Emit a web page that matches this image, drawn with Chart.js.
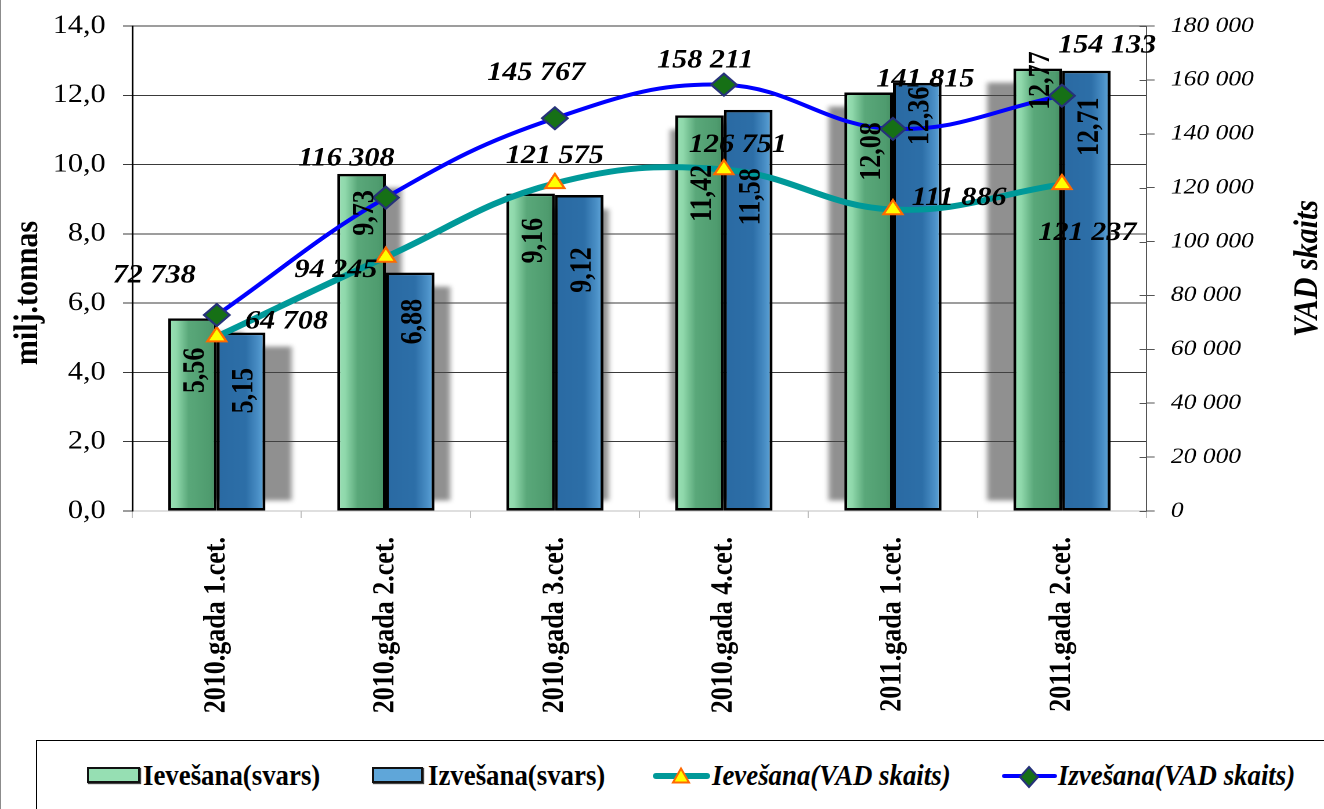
<!DOCTYPE html>
<html>
<head>
<meta charset="utf-8">
<script src="https://cdn.jsdelivr.net/npm/chart.js@4.4.1/dist/chart.umd.min.js"></script>
<style>
  html, body { margin:0; padding:0; background:#fff; width:1324px; height:809px; overflow:hidden; }
  #frame { position:absolute; left:0; top:0; width:1324px; height:809px; border-left:1px solid #8c8c8c; box-sizing:border-box; }
  #wrap { position:absolute; left:0; top:0; width:1141px; height:740px; transform:scaleX(1.1604); transform-origin:0 0; }
  #legendBox { position:absolute; left:36px; top:740px; width:1400px; height:100px; border-top:1.5px solid #000; border-left:1.5px solid #000; }
  .lgText { position:absolute; top:760px; font-family:'Liberation Serif','Times New Roman',serif; font-weight:bold; font-size:30px; line-height:30px; white-space:nowrap; transform:scaleX(0.894); transform-origin:0 0; color:#000; }
  .lgText.it { font-style:italic; }
  .lgRect { position:absolute; top:767px; height:16px; box-sizing:border-box; border:2.5px solid #111; box-shadow:1px 1px 1px #444; }
  .lgLine { position:absolute; border-radius:3px; }
  .lgSvg { position:absolute; overflow:visible; }
</style>
</head>
<body>
<div id="frame"></div>
<div id="wrap"><canvas id="c" width="1141" height="740"></canvas></div>
<div id="legendBox"></div>
<div id="legend"></div>
<script>
// ---------------- DATA ----------------
const categories = ['2010.gada 1.cet.', '2010.gada 2.cet.', '2010.gada 3.cet.', '2010.gada 4.cet.', '2011.gada 1.cet.', '2011.gada 2.cet.'];
const importWeight = [5.56, 9.73, 9.16, 11.42, 12.08, 12.77];
const exportWeight = [5.15, 6.88, 9.12, 11.58, 12.36, 12.71];
const importVAD = [64708, 94245, 121575, 126751, 111886, 121237];
const exportVAD = [72738, 116308, 145767, 158211, 141815, 154133];
const seriesNames = ['Ievešana(svars)', 'Izvešana(svars)', 'Ievešana(VAD skaits)', 'Izvešana(VAD skaits)'];
const leftAxisTitle = 'milj.tonnas';
const rightAxisTitle = 'VAD skaits';
const leftMax = 14, leftStep = 2;
const rightMax = 180000, rightStep = 20000;

// ---------------- LABEL PLACEMENT (styling) ----------------
const barLabelDy = [[52, 39, 47, 78, 59, 12], [58, 49, 75, 87, 33, 56]];
const lineLabelOff = {
  2: [[60, -15], [-43, 13], [0, -27], [12, -24], [57, -11], [22, 49]],
  3: [[-54, -39], [-34, -39], [-16, -45], [-16, -24], [28, -49], [39, -50]]
};

const CAT_PCT = 0.575;
const SERIF = "'Liberation Serif', 'Times New Roman', serif";
Chart.defaults.font.family = SERIF;
Chart.defaults.color = '#000';

const fmtDec = v => v.toFixed(2).replace('.', ',');
const fmtInt = v => String(Math.round(v)).replace(/\B(?=(\d{3})+(?!\d))/g, ' ');

function barFill(ctx, which) {
  const chart = ctx.chart;
  const xs = chart.scales.x;
  if (ctx.dataIndex === undefined || !xs || !chart.chartArea) return which === 0 ? '#5aa87a' : '#2d6fa8';
  const c = xs.getPixelForValue(ctx.dataIndex);
  const bw = (chart.chartArea.width / categories.length) * CAT_PCT / 2;
  const x0 = which === 0 ? c - bw : c;
  const g = chart.ctx.createLinearGradient(x0, 0, x0 + bw, 0);
  if (which === 0) {
    g.addColorStop(0, '#9ae2b6');
    g.addColorStop(0.16, '#90d9ac');
    g.addColorStop(0.42, '#5aa87a');
    g.addColorStop(0.85, '#4f9c6f');
    g.addColorStop(1, '#468f63');
  } else {
    g.addColorStop(0, '#2a6aa3');
    g.addColorStop(0.6, '#2d6fa8');
    g.addColorStop(0.85, '#4a8fc6');
    g.addColorStop(1, '#62a9dc');
  }
  return g;
}

const shadowPlugin = {
  id: 'barShadow',
  beforeDatasetsDraw(chart) {
    const ctx = chart.ctx, area = chart.chartArea, xs = chart.scales.x;
    const mid = (area.left + area.right) / 2;
    ctx.save();
    ctx.filter = 'blur(5px)';
    ctx.fillStyle = 'rgba(70,70,70,0.6)';
    [0, 1].forEach(di => {
      chart.getDatasetMeta(di).data.forEach((el, i) => {
        const off = (mid - xs.getPixelForValue(i)) * 0.062;
        const left = el.x - el.width / 2 + off;
        ctx.fillRect(left, el.y + 14, el.width, el.base - el.y - 24);
      });
    });
    ctx.restore();
  }
};

const labelPlugin = {
  id: 'labels',
  afterDatasetsDraw(chart) {
    const ctx = chart.ctx;
    ctx.save();
    ctx.fillStyle = '#000';
    ctx.font = 'bold 26px ' + SERIF;
    ctx.textAlign = 'center';
    ctx.textBaseline = 'middle';
    [0, 1].forEach(di => {
      const ds = chart.data.datasets[di];
      chart.getDatasetMeta(di).data.forEach((el, i) => {
        ctx.save();
        ctx.translate(el.x + 3, el.y + barLabelDy[di][i]);
        ctx.rotate(-Math.PI / 2);
        ctx.fillText(fmtDec(ds.data[i]), 0, 0);
        ctx.restore();
      });
    });
    ctx.font = 'italic bold 26px ' + SERIF;
    [2, 3].forEach(di => {
      const ds = chart.data.datasets[di];
      chart.getDatasetMeta(di).data.forEach((el, i) => {
        const o = lineLabelOff[di][i];
        ctx.fillText(fmtInt(ds.data[i]), el.x + o[0], el.y + o[1]);
      });
    });
    ctx.restore();
  },
  afterDraw(chart) {
    const ctx = chart.ctx;
    const y2 = chart.scales.y2;
    const area = chart.chartArea;
    ctx.save();
    ctx.strokeStyle = '#555';
    ctx.lineWidth = 1;
    y2.ticks.forEach(t => {
      const y = Math.round(y2.getPixelForValue(t.value)) + 0.5;
      ctx.beginPath();
      ctx.moveTo(y2.left - 6, y);
      ctx.lineTo(y2.left, y);
      ctx.stroke();
    });
    ctx.fillStyle = '#000';
    ctx.textAlign = 'center';
    ctx.textBaseline = 'middle';
    ctx.font = 'bold 30px ' + SERIF;
    ctx.translate(24, 293);
    ctx.rotate(-Math.PI / 2);
    ctx.fillText(leftAxisTitle, 0, 0);
    ctx.restore();
    ctx.save();
    ctx.fillStyle = '#000';
    ctx.textAlign = 'center';
    ctx.textBaseline = 'middle';
    ctx.font = 'italic bold 30px ' + SERIF;
    ctx.translate(1127, (area.top + area.bottom) / 2);
    ctx.rotate(-Math.PI / 2);
    ctx.fillText(rightAxisTitle, 0, 0);
    ctx.restore();
  }
};

new Chart(document.getElementById('c'), {
  data: {
    labels: categories,
    datasets: [
      { type: 'bar', label: seriesNames[0], data: importWeight, yAxisID: 'y',
        backgroundColor: c => barFill(c, 0), borderColor: '#000', borderWidth: 2.5, borderSkipped: false, order: 2 },
      { type: 'bar', label: seriesNames[1], data: exportWeight, yAxisID: 'y',
        backgroundColor: c => barFill(c, 1), borderColor: '#000', borderWidth: 2.5, borderSkipped: false, order: 2 },
      { type: 'line', label: seriesNames[2], data: importVAD, yAxisID: 'y2',
        borderColor: '#009999', borderWidth: 6, tension: 0.4, fill: false,
        pointStyle: 'triangle', pointRadius: 9.5, pointBackgroundColor: '#ffff00', pointBorderColor: '#ff6a00', pointBorderWidth: 2, order: 1 },
      { type: 'line', label: seriesNames[3], data: exportVAD, yAxisID: 'y2',
        borderColor: '#0000ff', borderWidth: 4, tension: 0.4, fill: false,
        pointStyle: 'rectRot', pointRadius: 11, pointBackgroundColor: '#167016', pointBorderColor: '#26327a', pointBorderWidth: 2, order: 0 }
    ]
  },
  options: {
    responsive: false,
    animation: false,
    devicePixelRatio: 2,
    layout: { padding: { top: 26, left: 0, right: 0, bottom: 0 } },
    datasets: { bar: { categoryPercentage: CAT_PCT, barPercentage: 1 } },
    plugins: { legend: { display: false }, tooltip: { enabled: false } },
    scales: {
      x: {
        type: 'category',
        grid: { offset: true, drawOnChartArea: false, color: '#bfbfbf', tickLength: 7 },
        border: { color: '#bfbfbf', width: 1 },
        ticks: { autoSkip: false, minRotation: 90, maxRotation: 90, padding: 19, font: { size: 26, weight: 'bold' }, color: '#000' },
        afterFit(s) { s.height = 229; }
      },
      y: {
        position: 'left', min: 0, max: leftMax,
        ticks: { stepSize: leftStep, padding: 15, font: { size: 26, lineHeight: 0.7 }, color: '#000', callback: v => v.toFixed(1).replace('.', ',') },
        grid: { color: c => (c.tick && c.tick.value === 0) ? '#bfbfbf' : '#3a3a3a', tickColor: '#3a3a3a', tickLength: 8, lineWidth: 1 },
        border: { color: '#000', width: 1.5 },
        afterFit(s) { s.width = 114; }
      },
      y2: {
        position: 'right', min: 0, max: rightMax,
        ticks: { stepSize: rightStep, padding: 14, font: { size: 22, style: 'italic', lineHeight: 0.8 }, color: '#000', callback: v => fmtInt(v) },
        grid: { drawOnChartArea: false, color: '#555', tickLength: 7 },
        border: { color: '#555', width: 1 },
        afterFit(s) { s.width = 153; }
      }
    }
  },
  plugins: [shadowPlugin, labelPlugin]
});

// ---------------- HTML legend ----------------
const lg = document.getElementById('legend');
function add(html) { lg.insertAdjacentHTML('beforeend', html); }
add('<div class="lgRect" style="left:87px;width:53px;background:#96dfb3"></div>');
add('<div class="lgText" style="left:143px">' + seriesNames[0] + '</div>');
add('<div class="lgRect" style="left:372px;width:51px;background:#5fa6d9"></div>');
add('<div class="lgText" style="left:428px">' + seriesNames[1] + '</div>');
add('<div class="lgLine" style="left:653px;top:773px;width:57px;height:6px;background:#009999"></div>');
add('<svg class="lgSvg" style="left:672px;top:767px" width="18" height="17"><polygon points="9,1.5 17,15.5 1,15.5" fill="#ffff00" stroke="#ff6a00" stroke-width="2"/></svg>');
add('<div class="lgText it" style="left:712px">' + seriesNames[2] + '</div>');
add('<div class="lgLine" style="left:1002px;top:774px;width:55px;height:4px;background:#0000ff"></div>');
add('<svg class="lgSvg" style="left:1019px;top:766px" width="20" height="22"><polygon points="10,1 19,11 10,21 1,11" fill="#167016" stroke="#26327a" stroke-width="2"/></svg>');
add('<div class="lgText it" style="left:1058px">' + seriesNames[3] + '</div>');
</script>
</body>
</html>
